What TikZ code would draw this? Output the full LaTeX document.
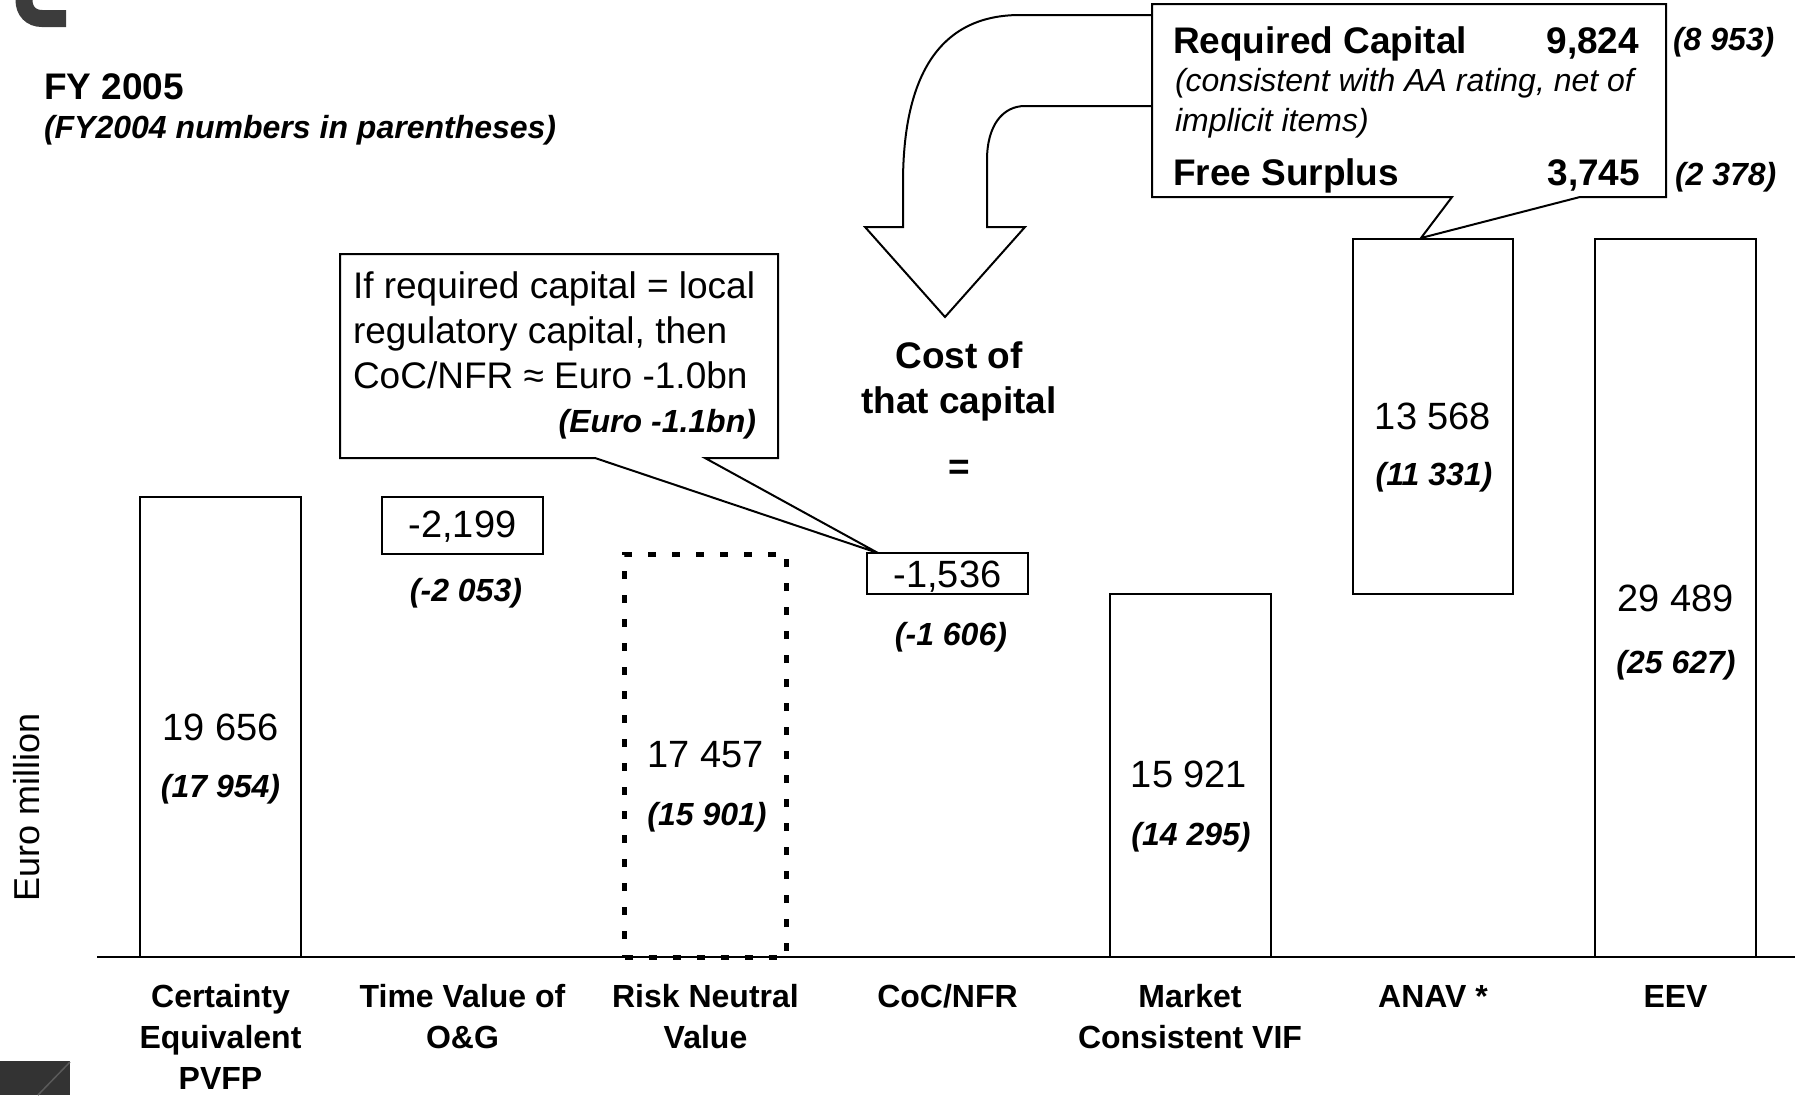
\documentclass[tikz,border=0pt]{standalone}
\usepackage{fontspec}
\setmainfont{Liberation Sans}
\definecolor{cornerdark}{HTML}{3C3C3C}
\definecolor{cornerbox}{HTML}{333333}
\definecolor{cornerline}{HTML}{5A5A5A}
\begin{document}
\begin{tikzpicture}[x=1pt,y=-1pt,
  every node/.style={inner sep=0pt, outer sep=0pt},
  thin line/.style={line width=2pt, black, line join=miter},
  barbox/.style={draw, line width=2pt, fill=white, anchor=south, minimum width=161pt},
  valbox/.style={draw, line width=2pt, fill=white, minimum width=161pt},
  dashbox/.style={draw, line width=5pt, dash pattern=on 8pt off 16pt, anchor=south, minimum width=162pt},
  val/.style={anchor=base, font=\fontsize{38}{42}\selectfont},
  prev/.style={anchor=base, font=\fontsize{32}{36}\selectfont\bfseries\itshape},
  cat/.style={anchor=base, font=\fontsize{32}{36}\selectfont\bfseries},
  big/.style={font=\fontsize{37}{42}\selectfont\bfseries},
  note/.style={font=\fontsize{37}{42}\selectfont},
  noteit/.style={font=\fontsize{32}{36}\selectfont\itshape}]
\useasboundingbox (0,0) rectangle (1795,1095);

% corner marks
\draw[line width=17pt, cornerdark] (24,-5) -- (24,0) .. controls (24,11) and (31,18.5) .. (42,18.5) -- (66,18.5);
\fill[cornerbox] (0,1061) rectangle (70,1095);
\draw[cornerline, line width=1.5pt] (38,1095) -- (70,1062);

% headings
\node[big, anchor=base west] (fy) at (44,99) {FY 2005};
\node[prev, anchor=base west] (fyprev) at (44,138) {(FY2004 numbers in parentheses)};
\node[anchor=center, rotate=90, font=\fontsize{36}{40}\selectfont] (unit) at (27,807) {Euro million};

% axis
\coordinate (axL) at (97,957);
\coordinate (axR) at (1795,957);
\draw[line width=2.5pt] (axL) -- (axR);

% bars and value boxes
\node[barbox, minimum height=460pt] (b1) at (220.5,957) {};
\node[valbox, minimum height=57pt] (b2) at (462.5,525.5) {};
\node[dashbox, minimum height=403pt] (b3) at (705.5,957) {};
\node[valbox, minimum height=41pt] (b4) at (947.5,573.5) {};
\node[barbox, minimum height=363pt] (b5) at (1190,957) {};
\node[barbox, minimum height=355pt, minimum width=160pt] (b6) at (1433,594) {};
\node[barbox, minimum height=718pt] (b7) at (1675.5,957) {};

% values
\node[val] (v1) at (220.5,740) {19 656};
\node[prev] (p1) at (220.5,797) {(17 954)};
\node[val] (v2) at (462.5,537) {-2,199};
\node[prev] (p2) at (466,601) {(-2 053)};
\node[val] (v3) at (705.5,767) {17 457};
\node[prev] (p3) at (707,825) {(15 901)};
\node[val] (v4) at (947.5,587) {-1,536};
\node[prev] (p4) at (951,645) {(-1 606)};
\node[val] (v5) at (1189,787) {15 921};
\node[prev] (p5) at (1191,845) {(14 295)};
\node[val] (v6) at (1433,429) {13 568};
\node[prev] (p6) at (1434,485) {(11 331)};
\node[val] (v7) at (1675.5,611) {29 489};
\node[prev] (p7) at (1676,673) {(25 627)};

% category labels
\node[cat] (c1a) at (220.5,1007) {Certainty};
\node[cat] (c1b) at (220.5,1048) {Equivalent};
\node[cat] (c1c) at (220.5,1089) {PVFP};
\node[cat] (c2a) at (462.5,1007) {Time Value of};
\node[cat] (c2b) at (462.5,1048) {O\&G};
\node[cat] (c3a) at (705.5,1007) {Risk Neutral};
\node[cat] (c3b) at (705.5,1048) {Value};
\node[cat] (c4a) at (947.5,1007) {CoC/NFR};
\node[cat] (c5a) at (1190,1007) {Market};
\node[cat] (c5b) at (1190,1048) {Consistent VIF};
\node[cat] (c6a) at (1433,1007) {ANAV *};
\node[cat] (c7a) at (1675.5,1007) {EEV};

% cost of capital text
\node[big, anchor=base] (cost1) at (959,368) {Cost of};
\node[big, anchor=base] (cost2) at (959,413) {that capital};
\node[big, anchor=base] (eq) at (959,479) {=};

% callout on local regulatory capital
\coordinate (tipA) at (878,553);
\draw[thin line, fill=white] (340,254) -- (778,254) -- (778,458) -- (705,458) -- (tipA)
  -- (595,458) -- (340,458) -- cycle;
\node[note, anchor=base west] (n1) at (353,298) {If required capital = local};
\node[note, anchor=base west] (n2) at (353,343) {regulatory capital, then};
\node[note, anchor=base west] (n3) at (353,388) {CoC/NFR ≈ Euro -1.0bn};
\node[prev, anchor=base east] (n4) at (756,432) {(Euro -1.1bn)};

% curved block arrow
\draw[thin line, fill=white] (1152,15) -- (1020,15)
  .. controls (942,15) and (903,72) .. (903,183) -- (903,227) -- (865,227)
  -- (945,317) -- (1025,227) -- (987,227) -- (987,160)
  .. controls (987,125) and (1003,106) .. (1025,106) -- (1152,106);

% callout on required capital
\coordinate (tipB) at (1421,238);
\draw[thin line, fill=white] (1152,4) -- (1666,4) -- (1666,197) -- (1580,197) -- (tipB)
  -- (1452,197) -- (1152,197) -- cycle;
\node[big, anchor=base west] (rc) at (1173,53) {Required Capital};
\node[big, anchor=base east] (rcv) at (1639,53) {9,824};
\node[noteit, anchor=base west] (rc1) at (1175,91) {(consistent with AA rating, net of};
\node[noteit, anchor=base west] (rc2) at (1175,131) {implicit items)};
\node[big, anchor=base west] (fs) at (1173,185) {Free Surplus};
\node[big, anchor=base east] (fsv) at (1640,185) {3,745};
\node[prev, anchor=base west] (rcp) at (1673,50) {(8 953)};
\node[prev, anchor=base west] (fsp) at (1675,185) {(2 378)};
\end{tikzpicture}
\end{document}
